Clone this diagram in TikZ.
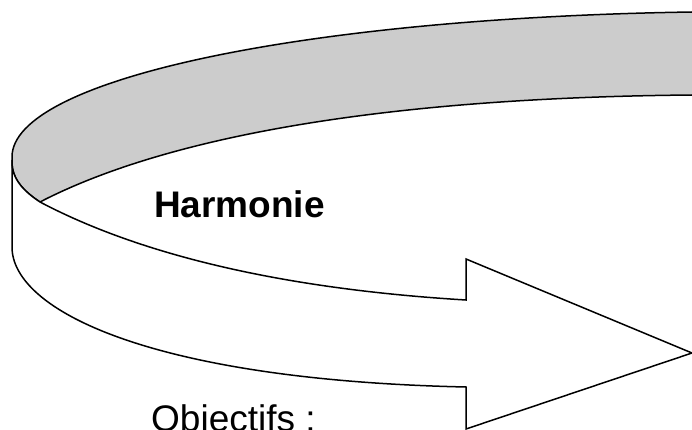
\documentclass[tikz,border=0pt]{standalone}
\usepackage{fontspec}
\setmainfont{Liberation Sans}
\definecolor{ribbongray}{HTML}{CCCCCC}
\tikzset{
  ribbon/.style={draw=black, line width=1.5pt, line join=miter},
  bigtext/.style={inner sep=0pt, font=\fontsize{37}{40}\selectfont},
}
\begin{document}
\begin{tikzpicture}[x=1pt,y=-1pt]
\useasboundingbox (0,0) rectangle (692,430);
% back (inner) side of the ribbon, grey
\path[ribbon, fill=ribbongray]
  (700,12) -- (692,12) .. controls (300,18) and (12,80) .. (12,157)
  -- (12,162) .. controls (12,180) and (25,192) .. (40,202)
  .. controls (150,145) and (350,98) .. (692,95) -- (700,95);
% front side of the ribbon with the arrow head, white
\path[ribbon, fill=white]
  (12,160) -- (12,247) .. controls (12,310) and (150,380) .. (466,387)
  -- (466,429) -- (692,353) -- (466,259) -- (466,300)
  .. controls (300,290) and (150,260) .. (40,202)
  .. controls (25,192) and (12,180) .. (12,162) -- cycle;
\node[bigtext, font=\fontsize{37}{40}\selectfont\bfseries, anchor=base west] (harm) at (154,218) {Harmonie};
\node[bigtext, anchor=base west] (obj) at (151,431.5) {Objectifs :};
\end{tikzpicture}
\end{document}
